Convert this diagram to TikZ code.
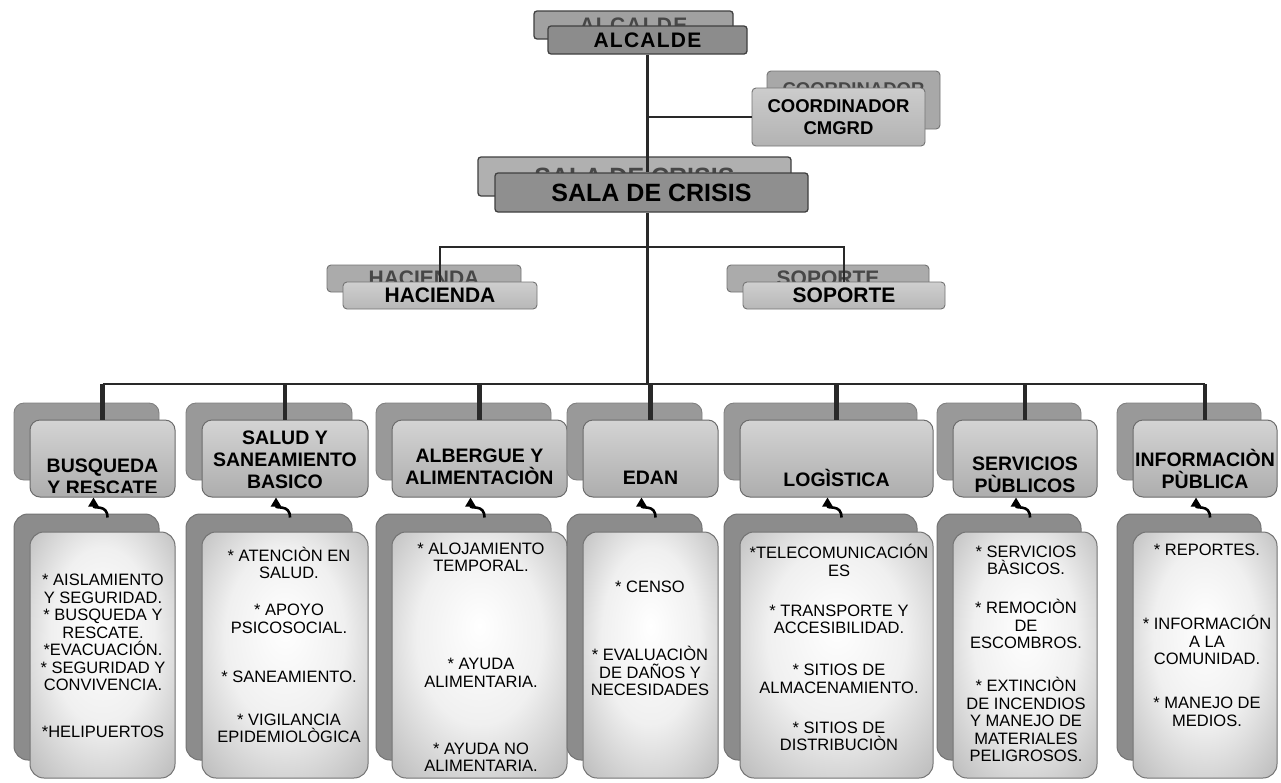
\documentclass[tikz,border=0pt]{standalone}
\usepackage{fontspec}
\setmainfont{Liberation Sans}
\usepackage{tikz}
\usetikzlibrary{arrows.meta,calc,positioning}
\definecolor{cmink}{gray}{0.16}
\definecolor{cmghost}{gray}{0.28}
\pgfdeclareradialshading{cmglow}{\pgfpoint{0bp}{6bp}}{color(0bp)=(white); color(18bp)=(white!94!black); color(36bp)=(black!26); color(50bp)=(black!46)}

\begin{document}
\begin{tikzpicture}[
  x=1pt,y=-1pt,
  wire/.style={draw=cmink,line width=2.8pt},
  wire heavy/.style={draw=cmink,line width=4.2pt},
  hook/.style={draw=black,line width=2.6pt,-{Triangle[length=9pt,width=10pt]}},
  bar/.style={draw=black!75,line width=1.3pt,rounded corners=3pt,inner sep=0pt,
    font=\bfseries\fontsize{21}{24}\selectfont},
  tag/.style={draw=black!55,line width=0.9pt,rounded corners=4pt,inner sep=0pt,align=center,
    font=\bfseries\fontsize{21}{24}\selectfont},
  hdback/.style={draw=black!50,line width=0.9pt,fill=black!40,rounded corners=10pt,minimum height=77pt},
  hdfront/.style={draw=black!58,line width=1pt,top color=black!17,bottom color=black!32,
    rounded corners=10pt,minimum height=77pt},
  hdtext/.style={align=center,inner sep=0pt,font=\bfseries\fontsize{19.5}{22}\selectfont},
  panelback/.style={draw=black!55,line width=1pt,fill=black!45,rounded corners=14pt,minimum height=246pt},
  panel/.style={draw=black!55,line width=1pt,shade,shading=cmglow,rounded corners=14pt,minimum height=246pt},
  items/.style={align=center,inner sep=0pt,font=\fontsize{16.5}{17.5}\selectfont},
]
  \useasboundingbox[fill=white] (0,0) rectangle (1281,782);

  % upper chain: every card lies on a greyed duplicate of itself
  \node[bar,fill=black!37,text=cmghost,minimum width=199pt,minimum height=28pt,
    font=\bfseries\fontsize{21}{24}\selectfont\addfontfeature{LetterSpace=6}] (alcB) at (633.5,25) {ALCALDE};
  \node[bar,fill=black!45,minimum width=199pt,minimum height=28pt,
    font=\bfseries\fontsize{21}{24}\selectfont\addfontfeature{LetterSpace=6}] (alc) at (647.5,40) {ALCALDE};
  \node[tag,fill=black!34,text=cmghost,font=\bfseries\fontsize{18.5}{22}\selectfont,
    minimum width=173pt,minimum height=58pt] (coorB) at (853.5,100) {COORDINADOR\\CMGRD};
  \node[tag,top color=black!20,bottom color=black!30,font=\bfseries\fontsize{18.5}{22}\selectfont,
    minimum width=173pt,minimum height=58pt] (coor) at (838.5,117) {COORDINADOR\\CMGRD};
  \node[bar,fill=black!31,text=cmghost,font=\bfseries\fontsize{25}{28}\selectfont,
    minimum width=313pt,minimum height=39pt] (salaB) at (634.5,176.5) {SALA DE CRISIS};
  \node[bar,fill=black!44,font=\bfseries\fontsize{25}{28}\selectfont,
    minimum width=313pt,minimum height=39pt] (sala) at (651.5,192.5) {SALA DE CRISIS};
  \node[tag,fill=black!33,text=cmghost,minimum width=194pt,minimum height=27pt] (hacB) at (424,278.5) {HACIENDA};
  \node[tag,top color=black!19,bottom color=black!28,minimum width=194pt,minimum height=27pt] (hac) at (440,295.5) {HACIENDA};
  \node[tag,fill=black!33,text=cmghost,minimum width=202pt,minimum height=27pt] (sopB) at (828,278.5) {SOPORTE};
  \node[tag,top color=black!19,bottom color=black!28,minimum width=202pt,minimum height=27pt] (sop) at (844,295.5) {SOPORTE};

  % seven working groups, header card over its task panel
  \foreach \i/\cx/\w in {1/102.5/145,2/285/166,3/479.5/175,4/650.5/135,5/836.5/193,6/1025/144,7/1205/144}{
    \node[hdback,minimum width=\w pt] (hb\i) at ({\cx-16},441.5) {};
    \node[panelback,minimum width=\w pt] (cb\i) at ({\cx-16},637) {};
    \node[hdfront,minimum width=\w pt] (h\i) at (\cx,458.5) {};
    \node[panel,minimum width=\w pt] (c\i) at (\cx,655) {};
  }

  % two titles run past the card and are cut by its lower edge
  \begin{scope}
    \clip[rounded corners=10pt] (h1.north west) rectangle ($(h1.south east)+(0,-5)$);
    \node[hdtext] (t1) at (102.5,476.5) {BUSQUEDA\\Y RESCATE};
  \end{scope}
  \node[hdtext] (t2) at (285,459.5) {SALUD Y\\SANEAMIENTO\\BASICO};
  \node[hdtext] (t3) at (479.5,466.5) {ALBERGUE Y\\ALIMENTACIÒN};
  \node[hdtext] (t4) at (650.5,478) {EDAN};
  \node[hdtext] (t5) at (836.5,478) {LOGÌSTICA};
  \begin{scope}
    \clip[rounded corners=10pt] (h6.north west) rectangle ($(h6.south east)+(0,-5)$);
    \node[hdtext] (t6) at (1025,475) {SERVICIOS\\PÙBLICOS};
  \end{scope}
  \node[hdtext] (t7) at (1205,469) {INFORMACIÒN\\PÙBLICA};

  \node[items] (k1) at (103,656) {* AISLAMIENTO\\Y SEGURIDAD.\\* BUSQUEDA Y\\RESCATE.\\*EVACUACIÓN.\\* SEGURIDAD Y\\CONVIVENCIA.\\[29.5pt]*HELIPUERTOS};
  \node[items] (k2) at (289,645) {* ATENCIÒN EN\\SALUD.\\[19.5pt]* APOYO\\PSICOSOCIAL.\\[31.5pt]* SANEAMIENTO.\\[25.5pt]* VIGILANCIA\\EPIDEMIOLÒGICA};
  \node[items] (k3) at (481,657) {* ALOJAMIENTO\\TEMPORAL.\\[80.5pt]* AYUDA\\ALIMENTARIA.\\[49.5pt]* AYUDA NO\\ALIMENTARIA.};
  \node[items] (k4) at (650,638.5) {* CENSO\\[50.5pt]* EVALUACIÒN\\DE DAÑOS Y\\NECESIDADES};
  \node[items] (k5) at (839,647.5) {*TELECOMUNICACIÓN\\ES\\[22.5pt]* TRANSPORTE Y\\ACCESIBILIDAD.\\[24.5pt]* SITIOS DE\\ALMACENAMIENTO.\\[22.5pt]* SITIOS DE\\DISTRIBUCIÒN};
  \node[items] (k6) at (1026,654) {* SERVICIOS\\BÀSICOS.\\[21.5pt]* REMOCIÒN\\DE\\ESCOMBROS.\\[25.5pt]* EXTINCIÒN\\DE INCENDIOS\\Y MANEJO DE\\MATERIALES\\PELIGROSOS.};
  \node[items] (k7) at (1207,635.5) {* REPORTES.\\[56.5pt]* INFORMACIÓN\\A LA\\COMUNIDAD.\\[26.5pt]* MANEJO DE\\MEDIOS.};

  % tree lines
  \coordinate (split) at (647.5,247);
  \coordinate (hub) at (647.5,384);
  \draw[wire] (alc.south) -- (alc.south |- sala.north);
  \draw[wire] (alc.south |- coor.west) -- (coor.west);
  \draw[wire] (alc.south |- sala.south) -- (hub);
  \draw[wire] (hac.north) -- (hac.north |- split) -- (sop.north |- split) -- (sop.north);
  \draw[wire] (h1.north |- hub) -- (h7.north |- hub);
  \foreach \i in {1,...,7}
    \draw[wire heavy] (h\i.north) -- (h\i.north |- hub);
  \foreach \i in {1,...,7}
    \draw[hook] ([xshift=21pt,yshift=-4pt]cb\i.north) .. controls +(0,-14) and +(0,12) .. ([xshift=-9pt]h\i.south);
\end{tikzpicture}
\end{document}
